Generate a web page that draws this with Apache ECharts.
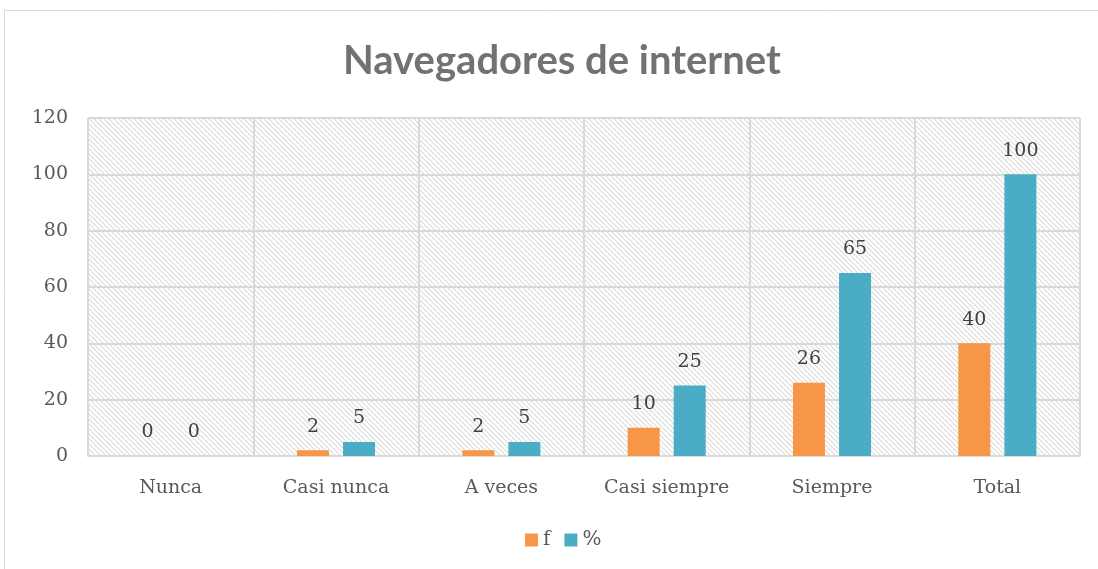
<!DOCTYPE html>
<html>
<head>
<meta charset="utf-8">
<script src="https://cdn.jsdelivr.net/npm/echarts@6/dist/echarts.min.js"></script>
<style>
html,body{margin:0;padding:0;background:#fff;}
#main{width:1098px;height:569px;}
</style>
</head>
<body>
<div id="main"></div>
<script>
var categories = ['Nunca', 'Casi nunca', 'A veces', 'Casi siempre', 'Siempre', 'Total'];
var fValues = [0, 2, 2, 10, 26, 40];
var pctValues = [0, 5, 5, 25, 65, 100];
var yTicks = [0, 20, 40, 60, 80, 100, 120];

// diagonal hatch for the plot background
var hatch = document.createElement('canvas');
hatch.width = 5;
hatch.height = 5;
var hc = hatch.getContext('2d');
hc.fillStyle = '#ffffff';
hc.fillRect(0, 0, 5, 5);
hc.strokeStyle = '#dcdcdc';
hc.lineWidth = 1.2;
hc.beginPath();
hc.moveTo(0, 0); hc.lineTo(5, 5);
hc.moveTo(-2.5, 2.5); hc.lineTo(2.5, 7.5);
hc.moveTo(2.5, -2.5); hc.lineTo(7.5, 2.5);
hc.stroke();

var myChart = echarts.init(document.getElementById('main'));

var serif = '"DejaVu Serif", "Liberation Serif", serif';

var option = {
    animation: false,
    title: {
        text: 'Navegadores de internet',
        left: 338,
        top: 36,
        textStyle: {
            fontFamily: 'Lato, "Open Sans", sans-serif',
            fontWeight: 'bold',
            fontSize: 40,
            color: '#767171'
        }
    },
    graphic: [{
        type: 'rect',
        shape: {x: 4.5, y: 10.5, width: 1100, height: 600},
        style: {fill: 'none', stroke: '#d9d9d9', lineWidth: 1},
        silent: true
    }],
    legend: {
        data: ['f', '%'],
        bottom: 14,
        left: 520,
        itemWidth: 13,
        itemHeight: 13,
        itemGap: 14,
        icon: 'rect',
        textStyle: {
            fontFamily: serif,
            fontSize: 20,
            color: '#595959'
        }
    },
    grid: {
        left: 88,
        right: 18,
        top: 118,
        bottom: 113,
        show: true,
        borderWidth: 0,
        backgroundColor: {image: hatch, repeat: 'repeat'}
    },
    xAxis: {
        type: 'category',
        data: categories,
        axisTick: {show: false},
        axisLine: {lineStyle: {color: '#d9d9d9', width: 2}},
        splitLine: {show: true, lineStyle: {color: '#d9d9d9', width: 2}},
        axisLabel: {
            fontFamily: serif,
            fontSize: 19,
            color: '#595959',
            margin: 23
        }
    },
    yAxis: {
        type: 'value',
        min: yTicks[0],
        max: yTicks[yTicks.length - 1],
        interval: 20,
        axisLine: {show: false},
        axisTick: {show: false},
        splitLine: {lineStyle: {color: '#d9d9d9', width: 2}},
        axisLabel: {
            fontFamily: serif,
            fontSize: 19,
            color: '#595959',
            margin: 20
        }
    },
    series: [
        {
            name: 'f',
            type: 'bar',
            data: fValues,
            barWidth: 32,
            barGap: '44%',
            color: '#f79646',
            label: {
                show: true,
                position: 'top',
                distance: 14,
                fontFamily: serif,
                fontSize: 19,
                color: '#404040'
            }
        },
        {
            name: '%',
            type: 'bar',
            data: pctValues,
            barWidth: 32,
            color: '#4bacc6',
            label: {
                show: true,
                position: 'top',
                distance: 14,
                fontFamily: serif,
                fontSize: 19,
                color: '#404040'
            }
        }
    ]
};

myChart.setOption(option);

window.onresize = function () {
    myChart.resize();
};
</script>
</body>
</html>
